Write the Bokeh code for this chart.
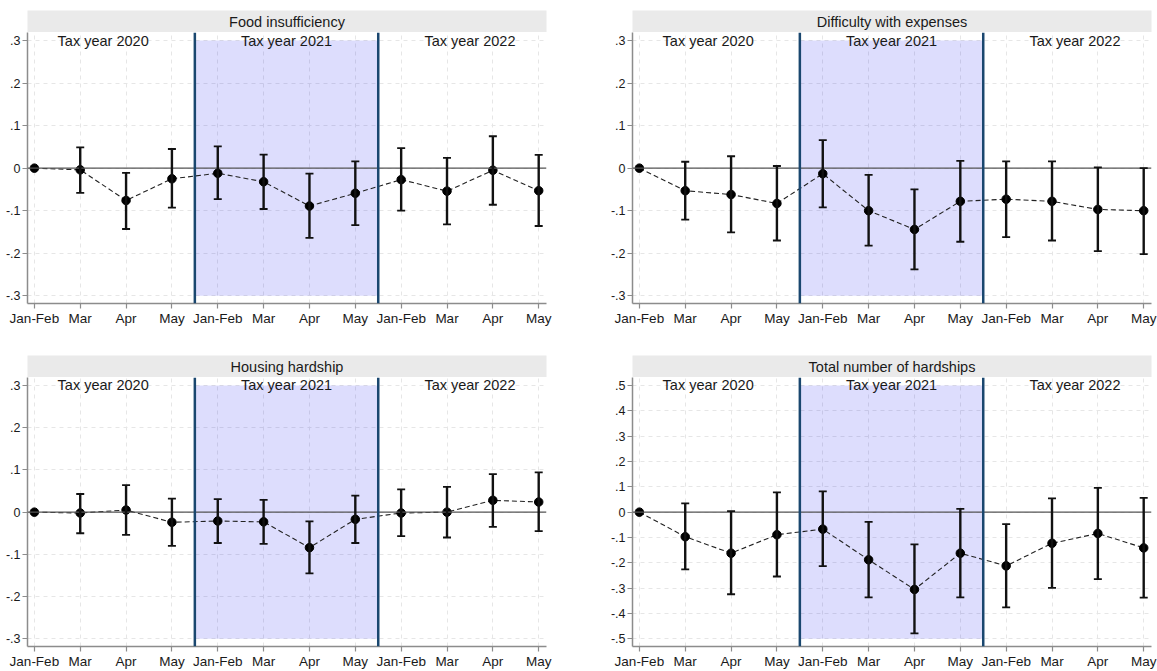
from bokeh.plotting import figure
from bokeh.layouts import column, row
from bokeh.models import Range1d, FixedTicker, Span, Whisker, TeeHead, ColumnDataSource
from bokeh.core.properties import value
from bokeh.embed import file_html
from bokeh.resources import INLINE

# ---------------- data ----------------
months = ["Jan-Feb", "Mar", "Apr", "May"] * 3
tax_years = ["Tax year 2020", "Tax year 2021", "Tax year 2022"]

food_title = "Food insufficiency"
food_est = [0, -0.004, -0.076, -0.025, -0.012, -0.032, -0.089, -0.059, -0.027, -0.054, -0.005, -0.053]
food_lo = [0, -0.058, -0.143, -0.093, -0.073, -0.096, -0.164, -0.134, -0.100, -0.132, -0.086, -0.136]
food_hi = [0, 0.049, -0.011, 0.045, 0.051, 0.032, -0.013, 0.016, 0.047, 0.024, 0.075, 0.031]

exp_title = "Difficulty with expenses"
exp_est = [0, -0.053, -0.062, -0.083, -0.013, -0.100, -0.144, -0.078, -0.073, -0.078, -0.097, -0.100]
exp_lo = [0, -0.121, -0.151, -0.170, -0.092, -0.182, -0.238, -0.173, -0.162, -0.170, -0.195, -0.202]
exp_hi = [0, 0.015, 0.028, 0.005, 0.066, -0.016, -0.050, 0.017, 0.016, 0.016, 0.002, 0.000]

house_title = "Housing hardship"
house_est = [0, -0.002, 0.005, -0.024, -0.021, -0.023, -0.084, -0.017, -0.002, 0.000, 0.028, 0.024]
house_lo = [0, -0.050, -0.054, -0.080, -0.073, -0.075, -0.145, -0.073, -0.057, -0.060, -0.035, -0.045]
house_hi = [0, 0.043, 0.064, 0.032, 0.031, 0.029, -0.022, 0.039, 0.054, 0.060, 0.090, 0.094]

total_title = "Total number of hardships"
total_est = [0, -0.097, -0.162, -0.089, -0.067, -0.188, -0.305, -0.162, -0.212, -0.123, -0.084, -0.141]
total_lo = [0, -0.226, -0.324, -0.254, -0.213, -0.336, -0.478, -0.336, -0.376, -0.299, -0.264, -0.337]
total_hi = [0, 0.035, 0.004, 0.078, 0.082, -0.038, -0.127, 0.013, -0.047, 0.054, 0.096, 0.056]

yticks_03 = [-0.3, -0.2, -0.1, 0, 0.1, 0.2, 0.3]
ylabels_03 = ["-.3", "-.2", "-.1", "0", ".1", ".2", ".3"]
yticks_05 = [-0.5, -0.4, -0.3, -0.2, -0.1, 0, 0.1, 0.2, 0.3, 0.4, 0.5]
ylabels_05 = ["-.5", "-.4", "-.3", "-.2", "-.1", "0", ".1", ".2", ".3", ".4", ".5"]

# ---------------- style ----------------
FONT = "Liberation Sans"
AXIS_GREY = "#8c8c8c"
TEXT = "#1a1a1a"
NAVY = "#1a476f"

idx = list(range(len(months)))
boundaries = [i - 0.5 for i in idx if i > 0 and months[i] == months[0]]
groups = []
start = 0
for b in boundaries + [len(months) - 0.5]:
    end = int(b + 0.5)
    groups.append(list(range(start, end)))
    start = end
year_x = [sum(g) / len(g) for g in groups]
shade_left = boundaries[0]
shade_right = boundaries[1]


def make_header(title, left, right, top, frame_w, frame_h=22):
    t = figure(width=left + frame_w + right, height=top + frame_h,
               x_range=Range1d(0, 1), y_range=Range1d(0, 1),
               x_axis_type=None, y_axis_type=None, tools="",
               output_backend="svg", toolbar_location=None,
               min_border_left=left, min_border_right=right,
               min_border_top=top, min_border_bottom=0)
    t.background_fill_color = "#eaeaea"
    t.border_fill_color = "white"
    t.outline_line_color = None
    t.text(x=[0.5], y=[0.5], text=[title], text_align="center",
           text_baseline="middle", text_font=value(FONT),
           text_font_size="14.5px", text_color=TEXT)
    return t


def make_panel(est, lo, hi, lim, yticks, ylabels, left, right, bottom, frame_w, frame_h=271):
    span_px = 255.3
    pad_top = 8.0 / span_px * 2 * lim
    pad_bot = 7.7 / span_px * 2 * lim
    p = figure(width=left + frame_w + right, height=frame_h + bottom,
               x_range=Range1d(-0.15, 11.17),
               y_range=Range1d(-lim - pad_bot, lim + pad_top),
               tools="", output_backend="svg", toolbar_location=None,
               min_border_left=left, min_border_right=right,
               min_border_top=0, min_border_bottom=bottom)
    p.outline_line_color = None
    p.background_fill_color = "white"

    # grids
    p.grid.grid_line_color = "#e6e6e6"
    p.grid.grid_line_dash = "4 4"
    p.grid.grid_line_width = 1

    # shaded tax year 2021
    p.quad(left=[shade_left], right=[shade_right], bottom=[-lim], top=[lim],
           fill_color="#0000f0", fill_alpha=0.135, line_color=None)

    # zero line
    p.add_layout(Span(location=0, dimension="width", line_color="#555555", line_width=1.3))
    # tax-year boundaries
    for b in boundaries:
        p.add_layout(Span(location=b, dimension="height", line_color=NAVY, line_width=2.5))

    # tax year labels
    p.text(x=year_x, y=[lim] * len(year_x), text=tax_years, text_align="center",
           text_baseline="middle", text_font=value(FONT), text_font_size="14.5px",
           text_color=TEXT)

    # dashed connecting line and points
    p.line(idx, est, line_color="#222222", line_width=1.1, line_dash="5 3")

    wsrc = ColumnDataSource(dict(
        x=[i for i in idx if lo[i] != hi[i]],
        lo=[lo[i] for i in idx if lo[i] != hi[i]],
        hi=[hi[i] for i in idx if lo[i] != hi[i]],
    ))
    w = Whisker(source=wsrc, base="x", lower="lo", upper="hi",
                line_color="#111111", line_width=2.4,
                upper_head=TeeHead(size=8, line_color="#111111", line_width=1.8),
                lower_head=TeeHead(size=8, line_color="#111111", line_width=1.8))
    w.level = "overlay"
    p.add_layout(w)

    p.scatter(idx, est, size=8.5, fill_color="#000000", line_color="#000000")

    # axes
    p.xaxis.ticker = FixedTicker(ticks=idx)
    p.xaxis.major_label_overrides = {i: months[i] for i in idx}
    p.yaxis.ticker = FixedTicker(ticks=yticks)
    p.yaxis.major_label_overrides = {v: s for v, s in zip(yticks, ylabels)}
    for ax in (p.xaxis, p.yaxis):
        ax.axis_line_color = AXIS_GREY
        ax.axis_line_width = 1.5
        ax.major_tick_line_color = AXIS_GREY
        ax.major_tick_line_width = 1.2
        ax.major_tick_in = 0
        ax.minor_tick_line_color = None
        ax.major_label_text_font = FONT
        ax.major_label_text_color = TEXT
    p.xaxis.major_tick_out = 5
    p.xaxis.major_label_standoff = 2
    p.xaxis.major_label_text_font_size = "13.5px"
    p.yaxis.major_tick_out = 5
    p.yaxis.major_label_standoff = 2
    p.yaxis.major_label_text_font_size = "12.5px"
    return p


L_LEFT, L_RIGHT, L_W = 27, 40, 519
R_LEFT, R_RIGHT, R_W = 46, 6, 519

h1 = make_header(food_title, L_LEFT, L_RIGHT, 10, L_W)
h2 = make_header(exp_title, R_LEFT, R_RIGHT, 10, R_W)
p1 = make_panel(food_est, food_lo, food_hi, 0.3, yticks_03, ylabels_03, L_LEFT, L_RIGHT, 50, L_W)
p2 = make_panel(exp_est, exp_lo, exp_hi, 0.3, yticks_03, ylabels_03, R_LEFT, R_RIGHT, 50, R_W)
h3 = make_header(house_title, L_LEFT, L_RIGHT, 2, L_W)
h4 = make_header(total_title, R_LEFT, R_RIGHT, 2, R_W)
p3 = make_panel(house_est, house_lo, house_hi, 0.3, yticks_03, ylabels_03, L_LEFT, L_RIGHT, 23, L_W)
p4 = make_panel(total_est, total_lo, total_hi, 0.5, yticks_05, ylabels_05, R_LEFT, R_RIGHT, 23, R_W)

layout = column(row(h1, h2), row(p1, p2), row(h3, h4), row(p3, p4))

open("out.html", "w").write(file_html(layout, INLINE))
